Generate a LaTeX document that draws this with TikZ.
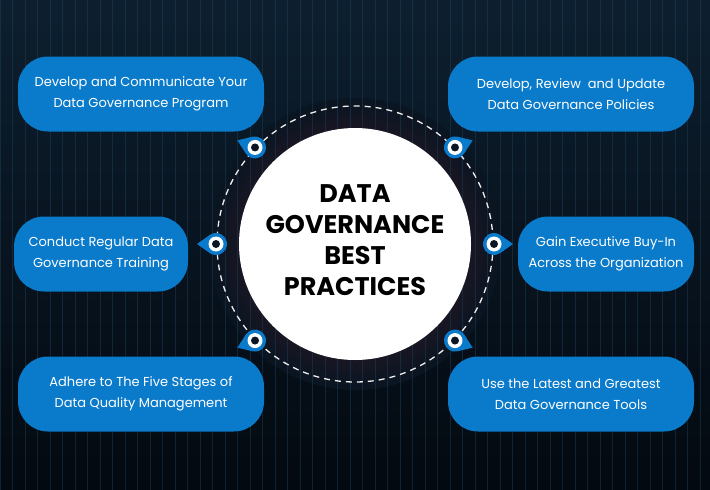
\documentclass[tikz,border=0pt]{standalone}
\usepackage{fontspec}
\setmainfont{Poppins}
\usetikzlibrary{positioning,calc}
\usepackage{xcolor}
\definecolor{nightsky}{RGB}{13,31,47}
\definecolor{deepnight}{RGB}{3,9,16}
\definecolor{gridblue}{RGB}{34,66,92}
\definecolor{pillblue}{RGB}{10,122,202}
\definecolor{glowred}{RGB}{84,24,40}
\definecolor{pindark}{RGB}{10,22,36}

% teardrop marker on the ring: #1 = coordinate, #2 = tip angle
\newcommand{\ringpin}[2]{%
  \fill[pillblue] ($(#1)+(#2:19)$) -- ($(#1)+(#2+54.6:11)$)
    arc[start angle=#2+54.6, end angle=#2+305.4, radius=11] -- cycle;
  \fill[white] (#1) circle (7.5);
  \fill[pindark] (#1) circle (4);
}

\begin{document}
\begin{tikzpicture}[x=1pt, y=-1pt]
  \tikzstyle{practice}=[rectangle, rounded corners=30pt, fill=pillblue, text=white, minimum height=75pt, inner sep=0pt, align=center, font=\fontsize{13}{20.5}\selectfont]
  \tikzstyle{hub}=[circle, fill=white, minimum size=232pt, inner sep=0pt, align=center, font=\bfseries\fontsize{25.5}{31}\selectfont]
  \useasboundingbox (0,0) rectangle (710,490);
  % backdrop
  \shade[top color=nightsky, bottom color=deepnight] (0,0) rectangle (710,490);
  \shade[inner color=glowred, outer color=nightsky!55!deepnight] (355,244) circle (146);
  \draw[gridblue, line width=0.5pt, opacity=0.45, step=12.5] (0,0) grid (710,490);

  \node[hub] (hub) at (355,244) {};
  \node[font=\bfseries\fontsize{25.5}{31}\selectfont, align=center] (title) at (355,240) {DATA\\GOVERNANCE\\BEST\\PRACTICES};
  \draw[white!88!gray, line width=1.3pt, dash pattern=on 6pt off 5pt] (hub.center) circle (138);

  \node[practice, minimum width=246pt] (program) at (141,94) {Develop and Communicate Your\\Data Governance Program};
  \node[practice, minimum width=246pt] (policies) at (571,94) {Develop, Review\ \ and Update\\Data Governance Policies};
  \node[practice, minimum width=174pt] (training) at (101,254) {Conduct Regular Data\\Governance Training};
  \node[practice, minimum width=176pt] (buyin) at (606,254) {Gain Executive Buy-In\\Across the Organization};
  \node[practice, minimum width=246pt] (stages) at (141,394) {Adhere to The Five Stages of\\Data Quality Management};
  \node[practice, minimum width=246pt] (tools) at (571,394) {Use the Latest and Greatest\\Data Governance Tools};

  % markers on the dashed ring
  \coordinate (pinTL) at ($(hub.center)+(-136:139)$);
  \coordinate (pinL) at ($(hub.center)+(180:139)$);
  \coordinate (pinBL) at ($(hub.center)+(136:139)$);
  \coordinate (pinTR) at ($(hub.center)+(-44:139)$);
  \coordinate (pinR) at ($(hub.center)+(0:139)$);
  \coordinate (pinBR) at ($(hub.center)+(44:139)$);
  \ringpin{pinTL}{-158}
  \ringpin{pinL}{180}
  \ringpin{pinBL}{158}
  \ringpin{pinTR}{-22}
  \ringpin{pinR}{0}
  \ringpin{pinBR}{22}
\end{tikzpicture}
\end{document}
